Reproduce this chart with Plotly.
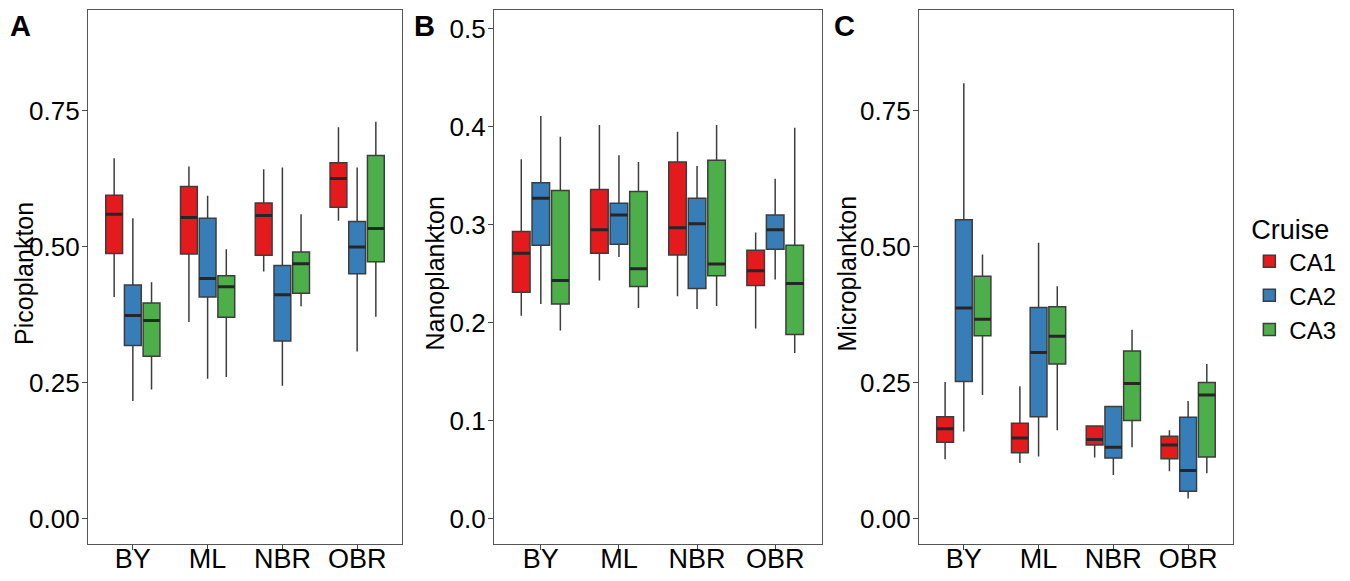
import plotly.graph_objects as go
from plotly.subplots import make_subplots

sites = ["BY", "ML", "NBR", "OBR"]
cruises = ["CA1", "CA2", "CA3"]
colors = ["#E41A1C", "#377EB8", "#4DAF4A"]

# rows: CA1, CA2, CA3 ; columns: BY, ML, NBR, OBR
pico_low = [[0.407, 0.361, 0.454, 0.547], [0.216, 0.257, 0.244, 0.307], [0.237, 0.260, 0.390, 0.371]]
pico_q1 = [[0.487, 0.486, 0.484, 0.572], [0.318, 0.407, 0.326, 0.450], [0.298, 0.370, 0.414, 0.472]]
pico_med = [[0.559, 0.553, 0.557, 0.625], [0.373, 0.441, 0.411, 0.499], [0.364, 0.426, 0.468, 0.533]]
pico_q3 = [[0.594, 0.610, 0.580, 0.654], [0.429, 0.552, 0.465, 0.546], [0.396, 0.446, 0.490, 0.667]]
pico_high = [[0.662, 0.647, 0.642, 0.719], [0.552, 0.593, 0.645, 0.645], [0.434, 0.495, 0.559, 0.729]]

nano_low = [[0.207, 0.243, 0.227, 0.194], [0.219, 0.267, 0.214, 0.244], [0.192, 0.215, 0.217, 0.169]]
nano_q1 = [[0.231, 0.271, 0.269, 0.238], [0.279, 0.280, 0.235, 0.275], [0.219, 0.237, 0.248, 0.188]]
nano_med = [[0.271, 0.295, 0.297, 0.253], [0.327, 0.310, 0.301, 0.295], [0.243, 0.255, 0.260, 0.240]]
nano_q3 = [[0.293, 0.336, 0.364, 0.274], [0.343, 0.322, 0.327, 0.310], [0.335, 0.334, 0.366, 0.279]]
nano_high = [[0.367, 0.402, 0.395, 0.292], [0.411, 0.371, 0.360, 0.347], [0.390, 0.364, 0.402, 0.399]]

micro_low = [[0.109, 0.102, 0.112, 0.087], [0.160, 0.114, 0.080, 0.037], [0.227, 0.162, 0.131, 0.083]]
micro_q1 = [[0.140, 0.121, 0.135, 0.110], [0.252, 0.187, 0.111, 0.050], [0.336, 0.284, 0.180, 0.113]]
micro_med = [[0.165, 0.148, 0.145, 0.135], [0.387, 0.305, 0.131, 0.088], [0.366, 0.335, 0.248, 0.227]]
micro_q3 = [[0.187, 0.175, 0.170, 0.151], [0.549, 0.388, 0.206, 0.186], [0.445, 0.389, 0.308, 0.250]]
micro_high = [[0.251, 0.243, 0.170, 0.162], [0.800, 0.507, 0.206, 0.216], [0.485, 0.427, 0.347, 0.284]]

panels = [
    (pico_low, pico_q1, pico_med, pico_q3, pico_high),
    (nano_low, nano_q1, nano_med, nano_q3, nano_high),
    (micro_low, micro_q1, micro_med, micro_q3, micro_high),
]
titles = ["Picoplankton", "Nanoplankton", "Microplankton"]

fig = make_subplots(rows=1, cols=3)

for col, (low, q1, med, q3, high) in enumerate(panels, start=1):
    for i, cruise in enumerate(cruises):
        fig.add_trace(go.Box(
            x=sites, lowerfence=low[i], q1=q1[i], median=med[i], q3=q3[i], upperfence=high[i],
            name=cruise, legendgroup=cruise, offsetgroup=cruise, showlegend=(col == 3),
            fillcolor=colors[i], line=dict(color="#3d3d3d", width=1.5), whiskerwidth=0,
        ), row=1, col=col)
        # thicker median line drawn on top, like ggplot
        fig.add_trace(go.Box(
            x=sites, lowerfence=med[i], q1=med[i], median=med[i], q3=med[i], upperfence=med[i],
            name=cruise, legendgroup=cruise, offsetgroup=cruise, showlegend=False,
            fillcolor="rgba(0,0,0,0)", line=dict(color="#262626", width=3), whiskerwidth=0,
            hoverinfo="skip",
        ), row=1, col=col)

# page body has an 8px margin, so the figure is a little smaller than the window
W, H = 1342, 573
x_domains = [[0.0596, 0.2936], [0.3621, 0.6066], [0.6788, 0.9128]]
y_ranges = [[-0.0463, 0.9345], [-0.0257, 0.5193], [-0.0463, 0.9345]]
y_ticks = [[0, 0.25, 0.5, 0.75], [0, 0.1, 0.2, 0.3, 0.4, 0.5], [0, 0.25, 0.5, 0.75]]
y_formats = [".2f", ".1f", ".2f"]
title_x = [0.0, 0.3059, 0.6129]
label_x = [0.0, 0.3010, 0.6140]

for k in range(3):
    fig.update_xaxes(domain=x_domains[k], range=[-0.6, 3.6], categoryorder="array", categoryarray=sites,
                     showline=True, mirror=True, linecolor="#555555", linewidth=1.2,
                     ticks="outside", ticklen=5, tickcolor="#444444", showgrid=False,
                     ticklabelstandoff=-14, tickfont=dict(size=27),
                     row=1, col=k + 1)
    fig.update_yaxes(domain=[0.0651, 0.9965], range=y_ranges[k], tickvals=y_ticks[k],
                     tickformat=y_formats[k], tickfont=dict(size=26), ticklabelstandoff=-3,
                     showline=True, mirror=True, linecolor="#555555", linewidth=1.2,
                     ticks="outside", ticklen=5, tickcolor="#444444", showgrid=False, zeroline=False,
                     row=1, col=k + 1)
    fig.add_annotation(text=titles[k], textangle=-90, x=title_x[k], y=0.5358, xref="paper", yref="paper",
                       xanchor="left", yanchor="middle", showarrow=False, font=dict(size=25))
    fig.add_annotation(text="<b>%s</b>" % "ABC"[k], x=label_x[k], y=1.0, xref="paper", yref="paper",
                       xanchor="left", yanchor="top", showarrow=False, font=dict(size=29))

fig.update_layout(
    width=W, height=H,
    margin=dict(l=0, r=0, t=0, b=0, autoexpand=False),
    plot_bgcolor="white", paper_bgcolor="white",
    boxmode="group", boxgap=0.25, boxgroupgap=0.1,
    font=dict(family="Liberation Sans, Arial, sans-serif", size=27, color="black"),
    legend=dict(title=dict(text="Cruise", font=dict(size=27)), x=0.925, y=0.658,
                xanchor="left", yanchor="top", font=dict(size=24), tracegroupgap=0),
)

fig.write_html("out.html")
